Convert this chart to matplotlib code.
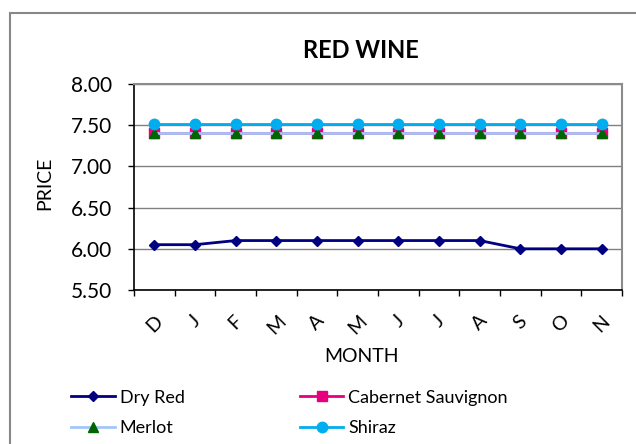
import matplotlib
matplotlib.use("Agg")
import matplotlib.pyplot as plt
from matplotlib.patches import Rectangle
import numpy as np

months = ["D", "J", "F", "M", "A", "M", "J", "J", "A", "S", "O", "N"]
dry_red = [6.05, 6.05, 6.10, 6.10, 6.10, 6.10, 6.10, 6.10, 6.10, 6.00, 6.00, 6.00]
cabernet = [7.40] * 12
merlot = [7.40] * 12
shiraz = [7.52] * 12
y_ticks = [5.50, 6.00, 6.50, 7.00, 7.50, 8.00]

plt.rcParams["font.family"] = ["Lato", "DejaVu Sans"]

W, H = 636, 444
fig = plt.figure(figsize=(W / 100, H / 100), dpi=100)

# chart-area border (runs off the right and bottom edges)
fig.patches.append(Rectangle((10 / W, -0.1), 1.2, 1 - 13 / H + 0.1,
                             transform=fig.transFigure, fill=False,
                             edgecolor="#888888", lw=1.5))

ax = fig.add_axes([134 / W, 1 - 290 / H, (622 - 134) / W, (290 - 84) / H])
x = np.arange(len(months))

ax.plot(x, dry_red, color="#000080", marker="D", markersize=5.5, lw=2,
        label="Dry Red", zorder=3)
ax.plot(x, cabernet, color="#E6007E", marker="s", markersize=7, lw=2,
        label="Cabernet Sauvignon", zorder=3)
ax.plot(x, merlot, color="#A3C6F7", marker="^", markersize=7.5,
        markerfacecolor="#006400", markeredgecolor="#006400", lw=2,
        label="Merlot", zorder=4)
ax.plot(x, shiraz, color="#00AEEF", marker="o", markersize=7.5, lw=2,
        label="Shiraz", zorder=5)

ax.set_xlim(-0.5, len(months) - 0.5)
ax.set_ylim(5.5, 8.0)
ax.set_yticks(y_ticks)
ax.set_yticklabels([f"{v:.2f}" for v in y_ticks], fontsize=15)
ax.yaxis.grid(True, color="#808080", lw=1)
ax.set_axisbelow(True)

ax.set_xticks(x)
ax.set_xticklabels(months, rotation=45, fontsize=14, ha="center", va="top")
ax.set_xticks(np.arange(-0.5, len(months)), minor=True)
ax.tick_params(axis="x", which="major", length=0, pad=16)
ax.tick_params(axis="x", which="minor", length=4, width=1, color="black")
ax.tick_params(axis="y", length=4, width=1, pad=11.5)

for side in ("top", "right"):
    ax.spines[side].set_color("#8c8c8c")
    ax.spines[side].set_linewidth(1.5)
for side in ("left", "bottom"):
    ax.spines[side].set_color("black")
    ax.spines[side].set_linewidth(1.2)

fig.text(361 / W, 1 - 51 / H, "RED WINE", fontsize=17, fontweight="bold",
         ha="center", va="center")
ax.set_ylabel("PRICE", fontsize=14)
ax.yaxis.set_label_coords((53 - 134) / 488, (290 - 183) / 206)
ax.set_xlabel("MONTH", fontsize=14)
ax.xaxis.set_label_coords((361 - 134) / 488, (290 - 348) / 206)

handles, labels = ax.get_legend_handles_labels()
order = [0, 2, 1, 3]
fig.legend([handles[i] for i in order], [labels[i] for i in order],
           ncol=2, frameon=False, fontsize=13,
           loc="center left", bbox_to_anchor=(55 / W, 1 - 413 / H),
           handlelength=2.4, handletextpad=0.28, columnspacing=6.4,
           labelspacing=0.8)

fig.savefig("out.png", dpi=100)
